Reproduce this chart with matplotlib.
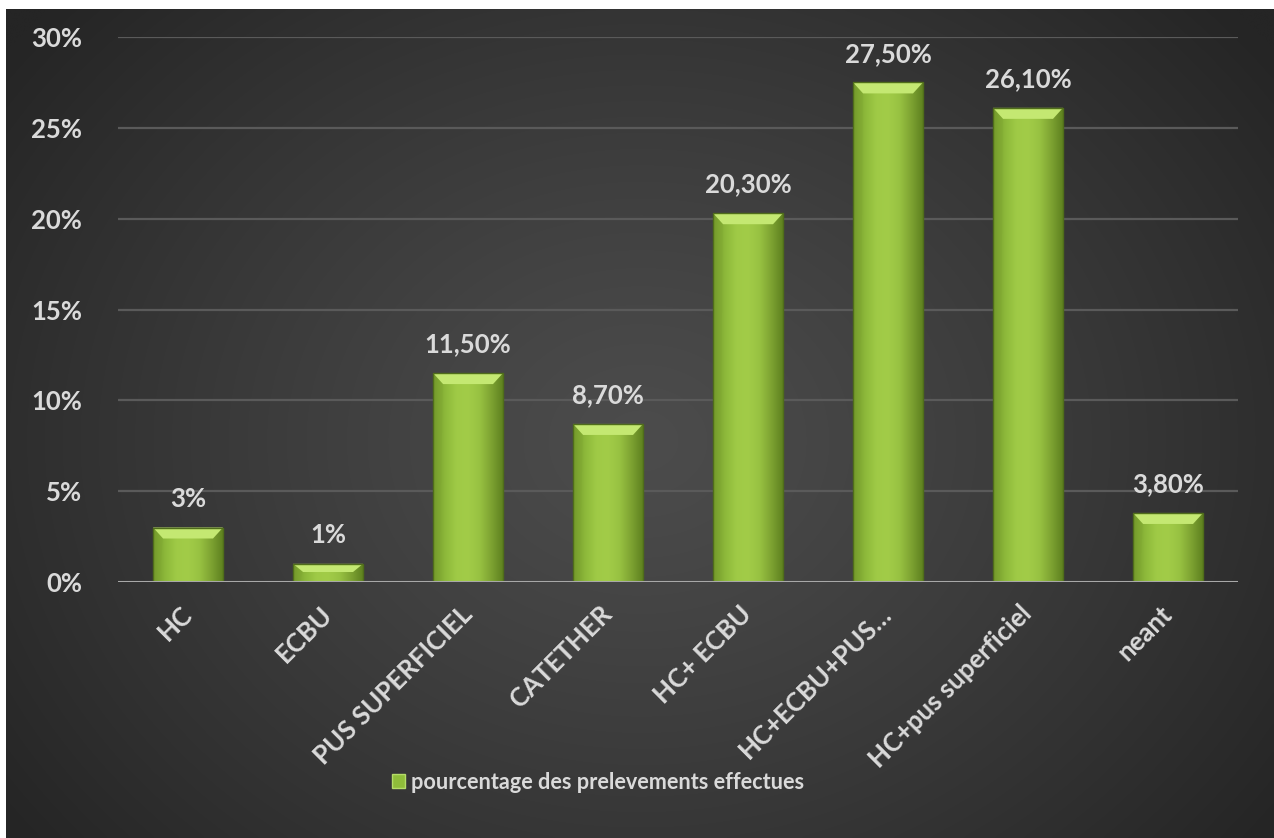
import numpy as np
import matplotlib
matplotlib.use("Agg")
import matplotlib.pyplot as plt
from matplotlib.patches import Polygon, Rectangle
from matplotlib.colors import LinearSegmentedColormap

# ---- data ----
categories = ["HC", "ECBU", "PUS SUPERFICIEL", "CATETHER", "HC+ ECBU",
              "HC+ECBU+PUS…", "HC+pus superficiel", "neant"]
values = [3, 1, 11.5, 8.7, 20.3, 27.5, 26.1, 3.8]
yticks = [0, 5, 10, 15, 20, 25, 30]
series_name = "pourcentage des prelevements effectues"


def fmt_pct(v):
    if float(v).is_integer():
        return f"{int(v)}%"
    return f"{v:.2f}%".replace(".", ",")


W, H, DPI = 1274, 838, 100
FONT = "Lato"
TXT = "#dadada"

fig = plt.figure(figsize=(W / DPI, H / DPI), dpi=DPI, facecolor="white")

# ---- dark radial-gradient chart area ----
bg = fig.add_axes([6 / W, 0, (W - 6) / W, (H - 9) / H])
bg.set_axis_off()
ny, nx = 300, 460
yy, xx = np.mgrid[0:ny, 0:nx]
cx, cy = nx * 0.50, ny * 0.52
r = np.sqrt(((xx - cx) / (nx * 0.62)) ** 2 + ((yy - cy) / (ny * 0.78)) ** 2)
r = np.clip(r, 0, 1)
inner, outer = 0x4c / 255, 0x25 / 255
shade = inner + (outer - inner) * r ** 1.2
bg.imshow(np.dstack([shade] * 3), aspect="auto", extent=(0, 1, 0, 1),
          interpolation="bicubic")
bg.set_xlim(0, 1)
bg.set_ylim(0, 1)

# ---- main plot ----
L, R = 118 / W, 1238 / W
B, T = (H - 582) / H, (H - 37) / H
ax = fig.add_axes([L, B, R - L, T - B])
ax.patch.set_alpha(0)
ax.set_xlim(-0.5, len(categories) - 0.5)
ax.set_ylim(0, 30)

for t in yticks[1:]:
    ax.axhline(t, color="#5a5a5a", lw=1.6, zorder=0)
ax.axhline(0, color="#a8a8a8", lw=2.2, zorder=3)

for s in ax.spines.values():
    s.set_visible(False)

bar_color = "#9ac43f"
x = np.arange(len(categories))
bars = ax.bar(x, values, width=0.5, color=bar_color, zorder=2,
              label=series_name)

# pixel → data conversion for bevel sizes
px_x = (len(categories)) / (W * (R - L))
px_y = 30 / (H * (T - B))

body_cmap = LinearSegmentedColormap.from_list(
    "body", ["#6f9428", "#8cb83a", "#9fca46", "#a2cc48", "#98c242", "#7ea332", "#5f8220"])
grad = np.linspace(0, 1, 200)[None, :]

for rect in bars:
    x0, w, h = rect.get_x(), rect.get_width(), rect.get_height()
    im = ax.imshow(grad, cmap=body_cmap, aspect="auto",
                   extent=(x0, x0 + w, 0, h), zorder=2.1, interpolation="bilinear")
    im.set_clip_path(rect)
    # darker thin outline
    ax.add_patch(Rectangle((x0, 0), w, h, fill=False, ec="#4f6d1a", lw=1.0, zorder=2.3))
    # bevelled top
    bx, by = 10 * px_x, min(11 * px_y, h * 0.45)
    top = Polygon([(x0, h), (x0 + w, h), (x0 + w - bx, h - by), (x0 + bx, h - by)],
                  closed=True, fc="#c4e872", ec="none", zorder=2.2)
    ax.add_patch(top)
    left = Polygon([(x0, h), (x0 + bx, h - by), (x0 + bx * 0.6, 0), (x0, 0)],
                   closed=True, fc="#7fa732", ec="none", alpha=0.35, zorder=2.2)
    ax.add_patch(left)
    ax.annotate(fmt_pct(h), (x0 + w / 2, h), xytext=(0, 12), textcoords="offset points",
                ha="center", va="bottom", color=TXT, fontsize=18.5,
                fontfamily=FONT, fontweight="bold", zorder=4)

ax.set_yticks(yticks)
ax.set_yticklabels([f"{t}%" for t in yticks], fontsize=18.5, color=TXT,
                   fontfamily=FONT, fontweight="bold")
ax.tick_params(axis="y", length=0, pad=26)
ax.set_xticks(x)
ax.set_xticklabels(categories, rotation=45, ha="right", va="center",
                   rotation_mode="anchor", fontsize=18.5, color=TXT,
                   fontfamily=FONT, fontweight="bold")
ax.tick_params(axis="x", length=0, pad=20)

handle = Rectangle((0, 0), 1, 1, fc="#8fbd3a", ec="#b5dc68", lw=1)
leg = fig.legend([handle], [series_name], loc="center",
                 bbox_to_anchor=(598 / W, (H - 782) / H), frameon=False,
                 handlelength=0.6, handleheight=0.6, handletextpad=0.3,
                 prop={"family": FONT, "weight": "bold", "size": 15.6})
for t in leg.get_texts():
    t.set_color(TXT)

fig.savefig("out.png", dpi=DPI, facecolor="white")
